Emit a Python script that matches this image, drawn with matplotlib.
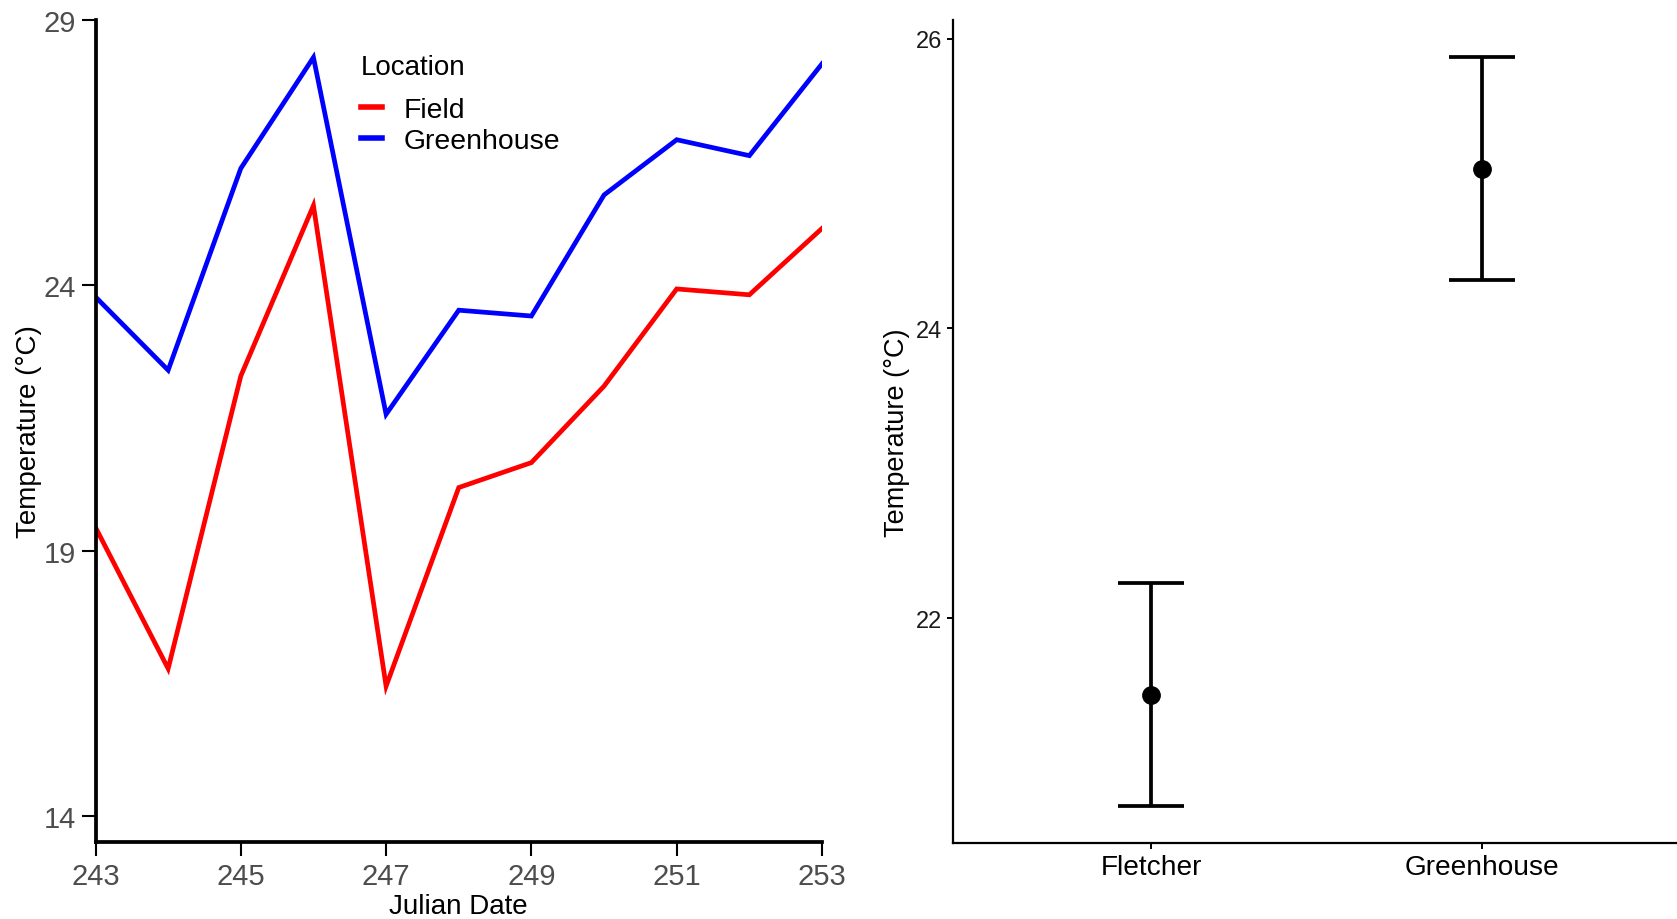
import matplotlib
matplotlib.use("Agg")
import matplotlib.pyplot as plt

plt.rcParams['font.family'] = ['Liberation Sans', 'DejaVu Sans']

# ---- data: left panel (daily mean temperature by location) ----
julian_days = [243, 244, 245, 246, 247, 248, 249, 250, 251, 252, 253]
field_temp = [19.44, 16.78, 22.29, 25.50, 16.45, 20.19, 20.66, 22.10, 23.93, 23.82, 25.07]
greenhouse_temp = [23.78, 22.40, 26.20, 28.29, 21.57, 23.53, 23.42, 25.70, 26.74, 26.44, 28.17]
series_names = ["Field", "Greenhouse"]
series_colors = ["#FF0000", "#0000FF"]
left_xticks = [243, 245, 247, 249, 251, 253]
left_yticks = [14, 19, 24, 29]

# ---- data: right panel (mean +/- error) ----
sites = ["Fletcher", "Greenhouse"]
site_means = [21.47, 25.10]
site_lower = [20.70, 24.33]
site_upper = [22.24, 25.87]
right_yticks = [22, 24, 26]

W, H = 1677, 920
fig = plt.figure(figsize=(W / 100, H / 100), dpi=100)

def rect(l, t, r, b):
    return [l / W, (H - b) / H, (r - l) / W, (b - t) / H]

# ---------------- left panel ----------------
ax1 = fig.add_axes(rect(95.5, 20.7, 822, 843.3))
ax1.plot(julian_days, field_temp, color=series_colors[0], lw=3.4,
         solid_joinstyle='miter', label=series_names[0])
ax1.plot(julian_days, greenhouse_temp, color=series_colors[1], lw=3.4,
         solid_joinstyle='miter', label=series_names[1])
ax1.set_xlim(243, 253)
ax1.set_ylim(13.51, 29.0)
ax1.set_xticks(left_xticks)
ax1.set_yticks(left_yticks)
for s in ['top', 'right']:
    ax1.spines[s].set_visible(False)
for s in ['left', 'bottom']:
    ax1.spines[s].set_linewidth(2.7)
    ax1.spines[s].set_capstyle('projecting')
ax1.tick_params(axis='both', length=10, width=1.5, color='black',
                labelsize=21, labelcolor='#4D4D4D', pad=4)
ax1.set_xlabel("Julian Date", fontsize=20, color='black', labelpad=2)
ax1.set_ylabel("Temperature (°C)", fontsize=20, color='black', labelpad=1)

leg = ax1.legend(title="Location", loc='upper left',
                 bbox_to_anchor=((361 - 95.5) / (822 - 95.5), 1 - (55.5 - 20.7) / (843.3 - 20.7)),
                 frameon=False, fontsize=20.4, title_fontsize=20,
                 handlelength=0.75, handletextpad=0.75, labelspacing=0.16,
                 borderpad=0, borderaxespad=0)
leg._legend_box.align = "left"
leg._legend_box.sep = 12
for line in leg.get_lines():
    line.set_linewidth(4.0)

# ---------------- right panel ----------------
ax2 = fig.add_axes(rect(953, 20.7, 1677, 844.3))
xpos = list(range(1, len(sites) + 1))
ax2.vlines(xpos, site_lower, site_upper, color='black', lw=2.7)
ax2.hlines(site_lower, [x - 0.1 for x in xpos], [x + 0.1 for x in xpos], color='black', lw=2.7)
ax2.hlines(site_upper, [x - 0.1 for x in xpos], [x + 0.1 for x in xpos], color='black', lw=2.7)
ax2.plot(xpos, site_means, 'o', color='black', ms=12.5, zorder=5)
ax2.set_xlim(0.4, 2.59)
ax2.set_ylim(20.445, 26.13)
ax2.set_xticks(xpos)
ax2.set_xticklabels(sites)
ax2.set_yticks(right_yticks)
for s in ['top', 'right']:
    ax2.spines[s].set_visible(False)
for s in ['left', 'bottom']:
    ax2.spines[s].set_linewidth(1.6)
ax2.tick_params(axis='both', length=4, width=1.4, color='black', pad=4)
ax2.tick_params(axis='y', labelsize=17, labelcolor='#1A1A1A')
ax2.tick_params(axis='x', labelsize=20.2, labelcolor='black')
ax2.set_ylabel("Temperature (°C)", fontsize=19.5, color='black', labelpad=4)

fig.savefig("out.png", dpi=100, facecolor='white')
